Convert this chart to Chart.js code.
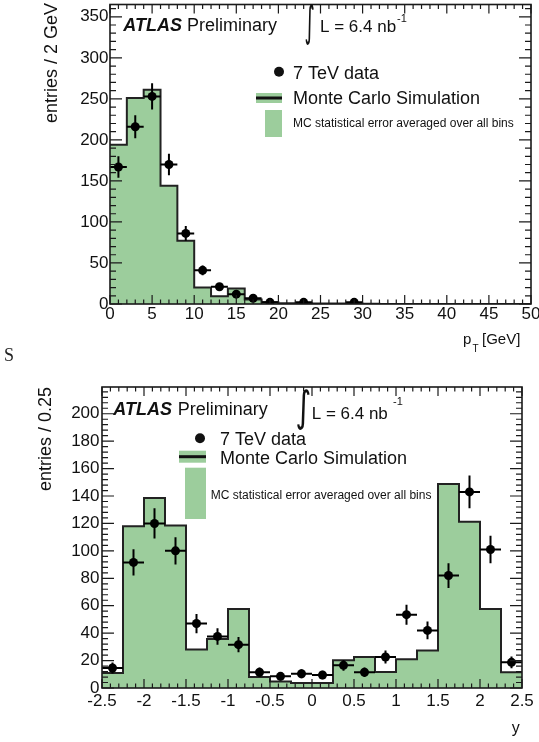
<!DOCTYPE html>
<html>
<head>
<meta charset="utf-8">
<script src="https://cdn.jsdelivr.net/npm/chart.js@4.4.1/dist/chart.umd.min.js"></script>
<style>
body { margin: 0; background: #fff; }
#ptChart { position: absolute; left: 0; top: 0; }
#yChart { position: absolute; left: 0; top: 358px; }
#stray { position: absolute; left: 4px; top: 346px; font: 18px 'Liberation Serif', serif; line-height: 1; color: #222; }
</style>
</head>
<body>
<canvas id="ptChart" width="539" height="358"></canvas>
<canvas id="yChart" width="539" height="384"></canvas>
<div id="stray">S</div>
<script>
Chart.defaults.font.family = "'Liberation Sans', Arial, sans-serif";
Chart.defaults.color = '#111';

// pT distribution, 2 GeV bins
var ptEdges = [0,2,4,6,8,10,12,14,16,18,20,22,24,26,28,30,32,34,36,38,40,42,44,46,48,50];
var ptMC = [194,251,261,144,77,20,9.5,19,5.5,2,1,1,0.7,0.5,0.5,0.3,0,0,0,0,0,0,0,0,0];
var ptDataX = [1,3,5,7,9,11,13,15,17,19,23,29];
var ptDataY = [167,216,253,170,86,41,21,12,7,2,2,2];
var ptDataErr = [13,14,16,13,9,6,4.5,3.5,2.6,1.4,1.4,1.4];
var ptXTicks = [0,5,10,15,20,25,30,35,40,45,50];
var ptYTicks = [0,50,100,150,200,250,300,350];

// rapidity distribution, 0.25 bins
var yEdges = [-2.5,-2.25,-2,-1.75,-1.5,-1.25,-1,-0.75,-0.5,-0.25,0,0.25,0.5,0.75,1,1.25,1.5,1.75,2,2.25,2.5];
var yMC = [11,118,138.5,118.5,28,35.7,57.6,8,4.8,3.6,3.6,20.2,22.6,11.7,21,27.4,148.7,121.3,57.6,11.4];
var yDataX = [-2.375,-2.125,-1.875,-1.625,-1.375,-1.125,-0.875,-0.625,-0.375,-0.125,0.125,0.375,0.625,0.875,1.125,1.375,1.625,1.875,2.125,2.375];
var yDataY = [14.6,91.6,120,100,47,37.6,31.6,11.5,8.5,10.4,9.5,16.5,11.5,22.6,53.5,42,82,143,101,18.7];
var yDataErr = [4,9.5,11,10,7,6,5.6,3.4,3,3.2,3.1,4,3.4,4.8,7.3,6.5,9,12,10,4.3];
var yXTicks = [-2.5,-2,-1.5,-1,-0.5,0,0.5,1,1.5,2,2.5];
var yYTicks = [0,20,40,60,80,100,120,140,160,180,200];

var GREEN = 'rgb(156,205,156)';
var INK = '#1a1a1a';
var SANS = "'Liberation Sans', Arial, sans-serif";

function stepPoints(edges, vals) {
  var pts = [];
  for (var i = 0; i < vals.length; i++) pts.push({x: edges[i], y: vals[i]});
  pts.push({x: edges[edges.length - 1], y: vals[vals.length - 1]});
  return pts;
}

// error bars are drawn under the markers
var errorBars = {
  id: 'errorBars',
  beforeDatasetDraw: function(chart, args) {
    var ds = chart.data.datasets[args.index];
    if (!ds.yErr) return;
    var ctx = chart.ctx, xs = chart.scales.x, ys = chart.scales.y;
    ctx.save();
    ctx.strokeStyle = '#000';
    ctx.lineWidth = 2;
    ctx.beginPath();
    ds.data.forEach(function(p, i) {
      var px = xs.getPixelForValue(p.x), py = ys.getPixelForValue(p.y);
      ctx.moveTo(xs.getPixelForValue(p.x - ds.xErr), py);
      ctx.lineTo(xs.getPixelForValue(p.x + ds.xErr), py);
      ctx.moveTo(px, ys.getPixelForValue(p.y + ds.yErr[i]));
      ctx.lineTo(px, ys.getPixelForValue(Math.max(0, p.y - ds.yErr[i])));
    });
    ctx.stroke();
    ctx.restore();
  }
};

// ROOT style frame with inward ticks on all four sides
function rootFrame(o) {
  return {
    id: 'rootFrame',
    afterDatasetsDraw: function(chart) {
      var a = chart.chartArea, ctx = chart.ctx, xs = chart.scales.x, ys = chart.scales.y;
      ctx.save();
      ctx.strokeStyle = INK;
      ctx.lineWidth = 1.2;
      ctx.beginPath();
      var n = Math.round((xs.max - xs.min) / o.xMinor);
      for (var i = 0; i <= n; i++) {
        var px = xs.getPixelForValue(xs.min + i * o.xMinor);
        var len = i % o.xPer === 0 ? 9 : 4.5;
        ctx.moveTo(px, a.bottom); ctx.lineTo(px, a.bottom - len);
        ctx.moveTo(px, a.top); ctx.lineTo(px, a.top + len);
      }
      var m = Math.floor(ys.max / o.yMinor);
      for (var j = 0; j <= m; j++) {
        var py = ys.getPixelForValue(j * o.yMinor);
        var l2 = j % o.yPer === 0 ? 12 : 6;
        ctx.moveTo(a.left, py); ctx.lineTo(a.left + l2, py);
        ctx.moveTo(a.right, py); ctx.lineTo(a.right - l2, py);
      }
      ctx.stroke();
      ctx.lineWidth = 1.6;
      ctx.strokeRect(a.left, a.top, a.right - a.left, a.bottom - a.top);
      ctx.restore();
    }
  };
}

function drawIntegral(ctx, x0, y0, x1, y1) {
  ctx.save();
  ctx.font = "40px 'DejaVu Sans', sans-serif";
  var m = ctx.measureText('\u222B');
  var w = m.actualBoundingBoxLeft + m.actualBoundingBoxRight;
  var h = m.actualBoundingBoxAscent + m.actualBoundingBoxDescent;
  ctx.translate(x0, y0);
  ctx.scale((x1 - x0) / w, (y1 - y0) / h);
  ctx.textAlign = 'left';
  ctx.textBaseline = 'alphabetic';
  ctx.fillText('\u222B', m.actualBoundingBoxLeft, m.actualBoundingBoxAscent);
  ctx.restore();
}

function annotations(o) {
  return {
    id: 'annotations',
    afterDraw: function(chart) {
      var ctx = chart.ctx;
      ctx.save();
      ctx.fillStyle = '#111';
      ctx.textAlign = 'left';
      ctx.textBaseline = 'alphabetic';
      ctx.font = 'italic bold 18px ' + SANS;
      ctx.fillText('ATLAS', o.atlas[0], o.atlas[1]);
      ctx.font = '18px ' + SANS;
      ctx.fillText('Preliminary', o.prelimX, o.atlas[1]);
      drawIntegral(ctx, o.integral[0], o.integral[1], o.integral[2], o.integral[3]);
      ctx.font = '17px ' + SANS;
      ctx.fillText('L = 6.4 nb', o.lumi[0], o.lumi[1]);
      ctx.font = '11px ' + SANS;
      ctx.fillText('-1', o.lumiSup[0], o.lumiSup[1]);

      // legend
      ctx.beginPath();
      ctx.arc(o.dot[0], o.dot[1], 5, 0, Math.PI * 2);
      ctx.fill();
      ctx.font = '18px ' + SANS;
      ctx.fillText('7 TeV data', o.dataText[0], o.dataText[1]);
      ctx.fillStyle = GREEN;
      ctx.fillRect(o.mcBox[0], o.mcBox[1], o.mcBox[2], o.mcBox[3]);
      ctx.fillRect(o.errBox[0], o.errBox[1], o.errBox[2], o.errBox[3]);
      ctx.fillStyle = '#111';
      ctx.fillRect(o.mcBox[0], o.mcBox[1] + o.mcBox[3] / 2 - 1.5, o.mcBox[2], 3);
      ctx.fillText('Monte Carlo Simulation', o.mcText[0], o.mcText[1]);
      ctx.font = '12px ' + SANS;
      ctx.fillText('MC statistical error averaged over all bins', o.errText[0], o.errText[1]);

      // y axis title, right aligned at the top of the frame
      ctx.save();
      ctx.translate(o.yTitle[0], o.yTitle[1]);
      ctx.rotate(-Math.PI / 2);
      ctx.textAlign = 'right';
      ctx.font = '18px ' + SANS;
      ctx.fillText(o.yTitleText, 0, 0);
      ctx.restore();

      o.xTitle(ctx);
      ctx.restore();
    }
  };
}

function histChart(id, o) {
  var W = 539;
  return new Chart(document.getElementById(id), {
    type: 'line',
    data: {
      datasets: [
        {
          data: stepPoints(o.edges, o.mc), stepped: true, fill: 'origin',
          backgroundColor: GREEN, borderColor: '#222', borderWidth: 2,
          pointRadius: 0, order: 2
        },
        {
          type: 'scatter',
          data: o.dataX.map(function(x, i) { return {x: x, y: o.dataY[i]}; }),
          xErr: o.halfWidth, yErr: o.dataErr,
          pointRadius: 4.5, pointBackgroundColor: '#000', pointBorderWidth: 0,
          order: 1
        }
      ]
    },
    options: {
      responsive: false,
      animation: false,
      events: [],
      layout: { padding: { left: 0, top: o.area.top, right: W - o.area.right, bottom: o.height - o.area.bottom - 40 } },
      plugins: { legend: { display: false }, tooltip: { enabled: false } },
      scales: {
        x: {
          type: 'linear', min: o.xMin, max: o.xMax,
          grid: { display: false, drawTicks: false }, border: { display: false },
          ticks: { font: { size: 17 }, padding: o.xPad, maxRotation: 0, autoSkip: false,
                   callback: function(v) { return String(v); } },
          afterBuildTicks: function(s) { s.ticks = o.xTicks.map(function(v) { return {value: v}; }); },
          afterFit: function(s) { s.height = 40; s.paddingLeft = 0; s.paddingRight = 0; }
        },
        y: {
          min: 0, max: o.yMax,
          grid: { display: false, drawTicks: false }, border: { display: false },
          ticks: { font: { size: 17 }, padding: o.yPad,
                   callback: function(v) { return String(v); } },
          afterBuildTicks: function(s) { s.ticks = o.yTicks.map(function(v) { return {value: v}; }); },
          afterFit: function(s) { s.width = o.area.left; s.paddingTop = 0; s.paddingBottom = 0; }
        }
      }
    },
    plugins: [errorBars, rootFrame(o), annotations(o)]
  });
}

histChart('ptChart', {
  edges: ptEdges, mc: ptMC, dataX: ptDataX, dataY: ptDataY, dataErr: ptDataErr, halfWidth: 1,
  xTicks: ptXTicks, yTicks: ptYTicks, xMin: 0, xMax: 50, yMax: 365,
  height: 358, area: { left: 110, right: 531, top: 3, bottom: 304 },
  xPad: 0, yPad: 1.5, xMinor: 1, xPer: 5, yMinor: 10, yPer: 5,
  atlas: [123.3, 30.7], prelimX: 187,
  integral: [305.5, 3, 314, 45], lumi: [320, 31.5], lumiSup: [397, 22],
  dot: [279, 71.7], dataText: [293, 79],
  mcBox: [256, 93, 26, 10], mcText: [293, 103.5],
  errBox: [265, 110, 17, 27], errText: [293, 127],
  yTitle: [57, 3], yTitleText: 'entries / 2 GeV',
  xTitle: function(ctx) {
    ctx.font = '15px ' + SANS;
    ctx.fillText('p', 463, 344);
    ctx.font = '10px ' + SANS;
    ctx.fillText('T', 472.5, 351.5);
    ctx.font = '15px ' + SANS;
    ctx.fillText('[GeV]', 482, 344);
  }
});

histChart('yChart', {
  edges: yEdges, mc: yMC, dataX: yDataX, dataY: yDataY, dataErr: yDataErr, halfWidth: 0.125,
  xTicks: yXTicks, yTicks: yYTicks, xMin: -2.5, xMax: 2.5, yMax: 219.5,
  height: 384, area: { left: 102, right: 522, top: 29, bottom: 330 },
  xPad: 3, yPad: 2.5, xMinor: 0.1, xPer: 5, yMinor: 4, yPer: 5,
  atlas: [113.3, 57], prelimX: 177.7,
  integral: [297, 30, 310, 72], lumi: [311.7, 60.5], lumiSup: [393, 47],
  dot: [200, 80.3], dataText: [220, 87],
  mcBox: [179, 92.7, 27, 12], mcText: [220, 106.3],
  errBox: [185, 109.7, 21, 51.3], errText: [210.7, 141],
  yTitle: [50.5, 29], yTitleText: 'entries / 0.25',
  xTitle: function(ctx) {
    ctx.font = '16px ' + SANS;
    ctx.fillText('y', 511.7, 375);
  }
});
</script>
</body>
</html>
